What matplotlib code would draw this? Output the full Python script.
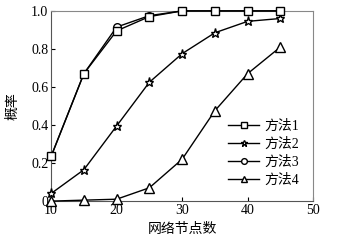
import numpy as np
import matplotlib
matplotlib.use('Agg')
import matplotlib.pyplot as plt

plt.rcParams['font.family'] = ['Liberation Serif', 'Noto Sans CJK SC']

nodes = [10, 15, 20, 25, 30, 35, 40, 45]
m1 = [0.235, 0.67, 0.895, 0.97, 1.0, 1.0, 1.0, 1.0]
m2 = [0.04, 0.165, 0.395, 0.625, 0.775, 0.885, 0.945, 0.96]
m3 = [0.235, 0.67, 0.915, 0.975, 1.0, 1.0, 1.0, 1.0]
m4 = [0.0, 0.005, 0.01, 0.07, 0.22, 0.475, 0.67, 0.81]
names = ['方法1', '方法2', '方法3', '方法4']

fig = plt.figure(figsize=(3.55, 2.42), dpi=100)
ax = fig.add_axes([0.144, 0.169, 0.738, 0.786])

style = dict(color='black', lw=1.0, mfc='white', mec='black', mew=1.0, clip_on=False)
ax.plot(nodes, m1, marker='s', ms=5.5, label=names[0], zorder=4, **style)
ax.plot(nodes, m2, marker='*', ms=6.5, label=names[1], zorder=3, **style)
ax.plot(nodes, m3, marker='o', ms=5.5, label=names[2], zorder=3, **style)
ax.plot(nodes, m4, marker='^', ms=6.5, label=names[3], zorder=3, **style)

ax.set_xlim(10, 50)
ax.set_ylim(0, 1.0)
ax.set_xticks([10, 20, 30, 40, 50])
ax.set_yticks([0, 0.2, 0.4, 0.6, 0.8, 1.0])
ax.set_yticklabels(['0', '0.2', '0.4', '0.6', '0.8', '1.0'])
ax.tick_params(direction='in', length=3, labelsize=10, pad=2)
for s in ['top', 'right']:
    ax.spines[s].set_color('#888888')
for s in ['left', 'bottom']:
    ax.spines[s].set_color('#555555')

ax.set_xlabel('网络节点数', fontsize=10, labelpad=4)
ax.set_ylabel('概率', fontsize=10, labelpad=8)

ax.legend(loc='lower right', frameon=False, fontsize=10, handlelength=2.2,
          handletextpad=0.4, labelspacing=0.35, borderaxespad=0.6,
          markerscale=0.75)

fig.savefig('out.png', dpi=100)
